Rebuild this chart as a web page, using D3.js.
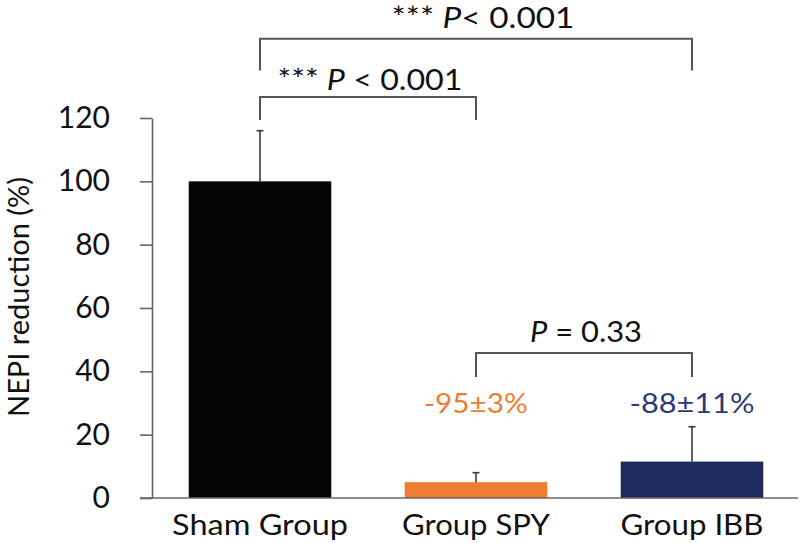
<!DOCTYPE html>
<html lang="en">
<head>
  <meta charset="UTF-8">
  <title>NEPI reduction</title>
  <script src="https://cdn.jsdelivr.net/npm/d3@7"></script>
  <style>
    body { margin: 0; background: #fff; }
    text { font-family: Lato, "Open Sans", sans-serif; fill: #111; }
  </style>
</head>
<body>
  <div id="chart"></div>

  <script>
    // data
    const categories = ["Sham Group", "Group SPY", "Group IBB"];
    const means = [100, 5, 11.5];
    const sds = [16, 3, 11];
    const barColors = ["#050505", "#ED7D31", "#1F2A5F"];
    const changeLabels = ["", "-95±3%", "-88±11%"];
    const changeColors = ["#000", "#ED7D31", "#2B3A7A"];
    const yTicks = [0, 20, 40, 60, 80, 100, 120];

    const width = 800, height = 543;

    const svg = d3.select('#chart')
      .append('svg')
        .attr('width', width)
        .attr('height', height);

    const x = d3.scaleBand()
      .domain(categories)
      .range([152, 800])
      .paddingInner(0.34)
      .paddingOuter(0.17);

    const y = d3.scaleLinear()
      .domain([0, 120])
      .range([498, 118]);

    const cx = i => x(categories[i]) + x.bandwidth() / 2;

    // the original figure is a bit wider than it is tall, so stretch text horizontally
    function stretch(sel, w) {
      sel.each(function() {
        const t = d3.select(this);
        const cur = this.getComputedTextLength();
        if (!cur) return;
        const tx = +t.attr('x'), ty = +t.attr('y');
        t.attr('x', 0).attr('y', 0)
          .attr('transform', `translate(${tx},${ty}) scale(${w / cur},1)`);
      });
    }

    // bars
    svg.selectAll('rect.bar')
      .data(means)
      .join('rect')
        .attr('class', 'bar')
        .attr('x', (d, i) => x(categories[i]))
        .attr('y', d => y(d))
        .attr('width', x.bandwidth())
        .attr('height', d => y(0) - y(d))
        .attr('fill', (d, i) => barColors[i]);

    // error bars (upper only)
    const err = svg.append('g')
      .attr('stroke', '#3a3a3a')
      .attr('stroke-width', 1.6);
    means.forEach((m, i) => {
      err.append('line')
        .attr('x1', cx(i)).attr('x2', cx(i))
        .attr('y1', y(m)).attr('y2', y(m + sds[i]));
      err.append('line')
        .attr('x1', cx(i) - 3.5).attr('x2', cx(i) + 3.5)
        .attr('y1', y(m + sds[i])).attr('y2', y(m + sds[i]));
    });

    // y axis
    const yAxis = svg.append('g')
      .attr('transform', 'translate(152,0)')
      .call(d3.axisLeft(y).tickValues(yTicks).tickSize(12).tickPadding(30).tickSizeOuter(0));
    yAxis.select('.domain').attr('stroke', '#6b6363').attr('stroke-width', 1.6);
    yAxis.selectAll('.tick line').attr('stroke', '#6b6363').attr('stroke-width', 1.6);
    yAxis.selectAll('.tick text')
      .attr('font-size', 30)
      .attr('font-family', 'Lato, sans-serif')
      .attr('fill', '#111');

    // x axis baseline
    svg.append('line')
      .attr('x1', 140).attr('x2', 798)
      .attr('y1', y(0)).attr('y2', y(0))
      .attr('stroke', '#6b6363')
      .attr('stroke-width', 1.6);

    // category labels
    const catWidths = [176, 148, 143];
    svg.selectAll('text.cat')
      .data(categories)
      .join('text')
        .attr('class', 'cat')
        .attr('x', d => x(d) + x.bandwidth() / 2)
        .attr('y', 535)
        .attr('text-anchor', 'middle')
        .attr('font-size', 29)
        .text(d => d)
        .each(function(d, i) { stretch(d3.select(this), catWidths[i]); });

    // y label
    svg.append('text')
      .attr('transform', `translate(29,${y(60) - 11}) rotate(-90)`)
      .attr('text-anchor', 'middle')
      .attr('font-size', 29)
      .text('NEPI reduction (%)');

    // change labels
    const chgWidths = [0, 104, 125];
    svg.selectAll('text.chg')
      .data(changeLabels)
      .join('text')
        .attr('class', 'chg')
        .attr('x', (d, i) => cx(i))
        .attr('y', y(26.8))
        .attr('text-anchor', 'middle')
        .attr('font-size', 27)
        .style('fill', (d, i) => changeColors[i])
        .text(d => d)
        .each(function(d, i) { if (d) stretch(d3.select(this), chgWidths[i]); });

    // significance brackets
    const brackets = [
      { a: 0, b: 2, top: 145, foot: 135, textY: 148.3, textX: 483, w: 183, stars: '*** ', rest: '< 0.001' },
      { a: 0, b: 1, top: 126.6, foot: 119.4, textY: 129, textX: 370, w: 185, stars: '*** ', rest: ' < 0.001' },
      { a: 1, b: 2, top: 45.8, foot: 38.2, textY: 49.3, textX: 586, w: 112, stars: '', rest: ' = 0.33' }
    ];

    brackets.forEach(bk => {
      svg.append('path')
        .attr('d', `M${cx(bk.a)},${y(bk.foot)}V${y(bk.top)}H${cx(bk.b)}V${y(bk.foot)}`)
        .attr('fill', 'none')
        .attr('stroke', '#555')
        .attr('stroke-width', 2);

      const t = svg.append('text')
        .attr('x', bk.textX)
        .attr('y', y(bk.textY))
        .attr('text-anchor', 'middle')
        .attr('font-size', 29);
      if (bk.stars) t.append('tspan').text(bk.stars);
      t.append('tspan').attr('font-style', 'italic').text('P');
      t.append('tspan').text(bk.rest);
      stretch(t, bk.w);
    });
  </script>
</body>
</html>
